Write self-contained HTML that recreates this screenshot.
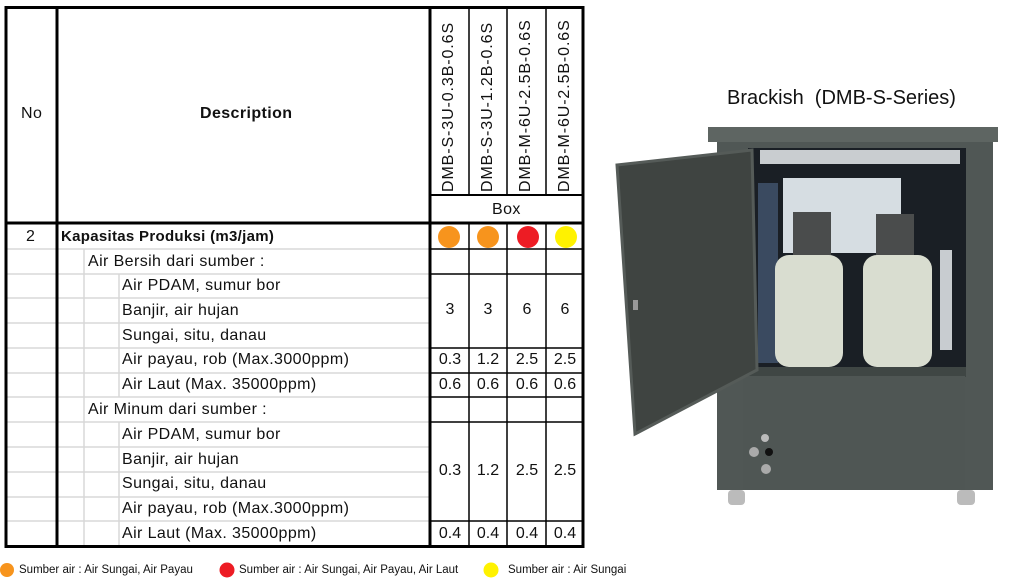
<!DOCTYPE html>
<html><head><meta charset="utf-8"><style>
body{margin:0;width:1016px;height:582px;background:#fff;position:relative;overflow:hidden;font-family:"Liberation Sans",sans-serif;color:#111}
.a{position:absolute}
.t{position:absolute;font-size:16px;line-height:24px;white-space:nowrap;letter-spacing:0.4px}
.v{position:absolute;font-size:16px;letter-spacing:0.9px;white-space:nowrap;transform:rotate(-90deg);transform-origin:left top}
.c{position:absolute;font-size:16px;text-align:center;width:38px}
.l{position:absolute;font-size:11.5px;line-height:24px;white-space:nowrap}
</style></head><body>
<svg class="a" style="left:0;top:0" width="1016" height="582">
<g stroke="#d8d8d8" stroke-width="1.5">
<line x1="5" y1="249" x2="430" y2="249"/><line x1="5" y1="274" x2="430" y2="274"/><line x1="5" y1="298" x2="430" y2="298"/><line x1="5" y1="323" x2="430" y2="323"/><line x1="5" y1="348" x2="430" y2="348"/><line x1="5" y1="373" x2="430" y2="373"/><line x1="5" y1="397" x2="430" y2="397"/><line x1="5" y1="422" x2="430" y2="422"/><line x1="5" y1="447" x2="430" y2="447"/><line x1="5" y1="472" x2="430" y2="472"/><line x1="5" y1="497" x2="430" y2="497"/><line x1="5" y1="521" x2="430" y2="521"/>
<line x1="84" y1="249" x2="84" y2="547"/><line x1="119" y1="274" x2="119" y2="397"/><line x1="119" y1="422" x2="119" y2="547"/>
</g>
<g stroke="#000" fill="none">
<rect x="6" y="7.5" width="577" height="539" stroke-width="3"/>
<line x1="57" y1="7" x2="57" y2="547" stroke-width="3"/>
<line x1="430" y1="7" x2="430" y2="547" stroke-width="3"/>
<line x1="5" y1="223" x2="583" y2="223" stroke-width="3"/>
<line x1="430" y1="195" x2="583" y2="195" stroke-width="2"/>
<g stroke-width="1.5">
<line x1="469" y1="7" x2="469" y2="195"/><line x1="507" y1="7" x2="507" y2="195"/><line x1="546" y1="7" x2="546" y2="195"/>
<line x1="469" y1="223" x2="469" y2="547"/><line x1="507" y1="223" x2="507" y2="547"/><line x1="546" y1="223" x2="546" y2="547"/>
<line x1="430" y1="249" x2="583" y2="249"/><line x1="430" y1="274" x2="583" y2="274"/><line x1="430" y1="348" x2="583" y2="348"/><line x1="430" y1="373" x2="583" y2="373"/><line x1="430" y1="397" x2="583" y2="397"/><line x1="430" y1="422" x2="583" y2="422"/><line x1="430" y1="521" x2="583" y2="521"/>
</g></g>
<circle cx="449" cy="237" r="11" fill="#f7941d"/><circle cx="488" cy="237" r="11" fill="#f7941d"/><circle cx="528" cy="237" r="11" fill="#ed1c24"/><circle cx="566" cy="237" r="11" fill="#fff200"/>
<circle cx="7" cy="570" r="7" fill="#f7941d"/><circle cx="227" cy="570" r="7.5" fill="#ed1c24"/><circle cx="491" cy="570" r="7.5" fill="#fff200"/>
<rect x="717" y="140" width="276" height="350" fill="#505755"/>
<rect x="708" y="127" width="290" height="15" fill="#5e6562"/>
<rect x="748" y="148" width="218" height="222" fill="#1a1f25"/>
<rect x="760" y="150" width="200" height="14" fill="#c9cdd0"/>
<rect x="783" y="178" width="118" height="75" fill="#d6dde2"/>
<rect x="758" y="183" width="20" height="180" fill="#3a4a60"/>
<rect x="793" y="212" width="38" height="50" fill="#4a4c4c"/><rect x="876" y="214" width="38" height="48" fill="#4a4c4c"/>
<rect x="775" y="255" width="68" height="112" rx="14" fill="#d9ddd0"/><rect x="863" y="255" width="69" height="112" rx="14" fill="#d9ddd0"/>
<rect x="940" y="250" width="12" height="100" fill="#c8ccd0"/>
<rect x="748" y="367" width="218" height="10" fill="#3f4644"/>
<rect x="743" y="376" width="222" height="114" fill="#4f5654"/>
<circle cx="765" cy="438" r="4" fill="#bbb"/><circle cx="754" cy="452" r="5" fill="#aaa"/><circle cx="769" cy="452" r="4" fill="#111"/><circle cx="766" cy="469" r="5" fill="#aaa"/>
<rect x="728" y="490" width="17" height="15" rx="4" fill="#bbb"/><rect x="957" y="490" width="18" height="15" rx="4" fill="#bbb"/>
<polygon points="617,165 752,150 757,370 635,434" fill="#3f4441" stroke="#555b58" stroke-width="3"/>
<rect x="633" y="300" width="5" height="10" fill="#999"/>
</svg>
<div class="t" style="left:21px;top:102px;font-size:16px">No</div>
<div class="t" style="left:200px;top:102px;font-size:16px;font-weight:bold">Description</div>
<div class="v" style="left:440px;top:192px">DMB-S-3U-0.3B-0.6S</div>
<div class="v" style="left:479px;top:192px">DMB-S-3U-1.2B-0.6S</div>
<div class="v" style="left:517px;top:192px">DMB-M-6U-2.5B-0.6S</div>
<div class="v" style="left:556px;top:192px">DMB-M-6U-2.5B-0.6S</div>
<div class="t" style="left:492px;top:198px">Box</div>
<div class="t" style="left:26px;top:225px">2</div>
<div class="t" style="left:61px;top:225px;font-weight:bold;font-size:15px;letter-spacing:0.3px">Kapasitas Produksi (m3/jam)</div>
<div class="t" style="left:88px;top:250px">Air Bersih dari sumber :</div>
<div class="t" style="left:122px;top:274px">Air PDAM, sumur bor</div>
<div class="t" style="left:122px;top:299px">Banjir, air hujan</div>
<div class="t" style="left:122px;top:324px">Sungai, situ, danau</div>
<div class="t" style="left:122px;top:348px">Air payau, rob (Max.3000ppm)</div>
<div class="t" style="left:122px;top:373px">Air Laut (Max. 35000ppm)</div>
<div class="t" style="left:88px;top:398px">Air Minum dari sumber :</div>
<div class="t" style="left:122px;top:423px">Air PDAM, sumur bor</div>
<div class="t" style="left:122px;top:448px">Banjir, air hujan</div>
<div class="t" style="left:122px;top:472px">Sungai, situ, danau</div>
<div class="t" style="left:122px;top:497px">Air payau, rob (Max.3000ppm)</div>
<div class="t" style="left:122px;top:522px">Air Laut (Max. 35000ppm)</div>
<div class="c" style="left:431px;top:301px">3</div><div class="c" style="left:469px;top:301px">3</div><div class="c" style="left:508px;top:301px">6</div><div class="c" style="left:546px;top:301px">6</div>
<div class="c" style="left:431px;top:351px">0.3</div><div class="c" style="left:469px;top:351px">1.2</div><div class="c" style="left:508px;top:351px">2.5</div><div class="c" style="left:546px;top:351px">2.5</div>
<div class="c" style="left:431px;top:376px">0.6</div><div class="c" style="left:469px;top:376px">0.6</div><div class="c" style="left:508px;top:376px">0.6</div><div class="c" style="left:546px;top:376px">0.6</div>
<div class="c" style="left:431px;top:462px">0.3</div><div class="c" style="left:469px;top:462px">1.2</div><div class="c" style="left:508px;top:462px">2.5</div><div class="c" style="left:546px;top:462px">2.5</div>
<div class="c" style="left:431px;top:525px">0.4</div><div class="c" style="left:469px;top:525px">0.4</div><div class="c" style="left:508px;top:525px">0.4</div><div class="c" style="left:546px;top:525px">0.4</div>
<div class="l" style="left:19px;top:558px">Sumber air :  Air Sungai, Air Payau</div>
<div class="l" style="left:239px;top:558px">Sumber air :  Air Sungai, Air Payau, Air Laut</div>
<div class="l" style="left:508px;top:558px">Sumber air : Air Sungai</div>
<div class="t" style="left:727px;top:86px;font-size:20px;letter-spacing:0">Brackish&nbsp; (DMB-S-Series)</div>
</body></html>
